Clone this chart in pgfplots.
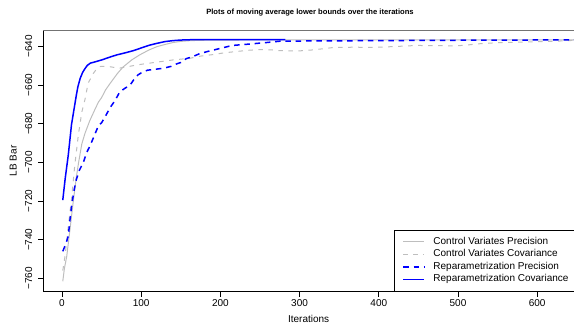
\documentclass[border=0pt]{standalone}
\usepackage{pgfplots}
\pgfplotsset{compat=1.18}
\usepackage{fontspec}
\setmainfont{Liberation Sans}
\definecolor{rgray}{HTML}{BEBEBE}
\definecolor{rblue}{HTML}{0000FF}
\begin{document}
\begin{tikzpicture}
\useasboundingbox (0,0) rectangle (574pt,326pt);
\begin{axis}[
  at={(43.3pt,34.3pt)}, anchor=south west,
  scale only axis, width=530.7pt, height=261.7pt,
  xmin=-23.6, xmax=646.5, ymin=-766.9, ymax=-631.5,
  axis x line*=bottom, axis y line*=left,
  axis line style={black, line width=0.7pt},
  clip mode=individual,
  tick align=outside, major tick length=5pt,
  tick style={black, line width=0.7pt},
  xtick={0,100,...,600},
  ytick={-760,-740,-720,-700,-680,-660,-640},
  yticklabels={−760,−740,−720,−700,−680,−660,−640},
  /pgf/number format/assume math mode=true,
  ticklabel style={font=\fontsize{10}{12}\selectfont},
  yticklabel style={rotate=90, anchor=south, inner sep=0pt, yshift=6pt},
  xticklabel style={anchor=north, inner sep=0pt, yshift=-3pt},
  xlabel={Iterations}, ylabel={LB Bar},
  label style={font=\fontsize{10}{12}\selectfont},
  xlabel style={at={(axis description cs:0.5,0)}, anchor=center, inner sep=0pt, yshift=-27pt},
  ylabel style={at={(axis description cs:-0.0565,0.5)}, anchor=center, inner sep=0pt},
  legend cell align=left,
  legend style={at={(0.6603,0)}, anchor=south west, draw=black,
    inner xsep=8.6pt, inner ysep=7.5pt, row sep=3.3pt, column sep=0pt,
    font=\fontsize{10}{12}\selectfont,
    nodes={inner sep=0pt, text height=7.2pt, text depth=2pt}},
  legend image code/.code={\draw[#1] (0pt,0pt) -- (21pt,0pt); \path (29.4pt,0pt);},
]
\addlegendimage{draw=rgray, line width=1pt}
\addlegendentry{Control Variates Precision}
\addlegendimage{draw=rgray, line width=1pt, dash pattern=on 4.5pt off 5.5pt}
\addlegendentry{Control Variates Covariance}
\addlegendimage{draw=rblue, line width=1.5pt, dash pattern=on 5.5pt off 4.8pt}
\addlegendentry{Reparametrization Precision}
\addlegendimage{draw=rblue, line width=1.2pt}
\addlegendentry{Reparametrization Covariance\hspace{6pt}}
\addplot[forget plot, color=rgray, line width=1pt] coordinates {
(1,-761.5) (3,-755) (6,-748.6) (10,-735) (14,-721) (18,-708) (21,-700) (25,-690.5) (29,-685) (35,-678.5) (40,-674) (46,-668.8) (50,-666.5) (55,-662.5) (61,-659) (70,-654) (77,-650.7) (88,-647) (98,-644.4) (110,-641.8) (120,-640.1) (130,-639) (140,-638) (150,-637.4) (162,-637) (180,-636.8) (250,-636.6) (400,-636.6) (650,-636.6)};
\addplot[forget plot, color=rgray, line width=1pt, dash pattern=on 4.5pt off 5.5pt] coordinates {
(1,-756) (4,-748) (8,-733) (12,-719) (16,-702) (20.6,-686) (25,-674) (29,-667.5) (33,-659) (39.5,-654) (44,-651.5) (48,-650.4) (56,-650.2) (65,-650.8) (73,-651.2) (83,-650.5) (94,-649.6) (115,-648.4) (140,-647) (162,-646.1) (175,-645) (191,-644.2) (205,-643.3) (221,-642.6) (235,-642) (250,-641.6) (265,-641.8) (275,-642.2) (290,-642.3) (300,-642.3) (317,-641.8) (342,-640.6) (368,-640.4) (393,-640.5) (418,-640.1) (448,-639.5) (473,-639.6) (498,-639.7) (511,-639.3) (524,-638.7) (553,-638) (578,-637.8) (604,-637.5) (629,-637.2) (650,-636.8)};
\addplot[forget plot, color=rblue, line width=1.5pt, dash pattern=on 5.5pt off 4.8pt] coordinates {
(1,-746) (3,-744) (5,-742) (8,-738) (10,-730) (12,-723) (15,-715) (18,-709) (22,-704) (27,-700) (31,-695) (35,-691.8) (41,-686) (46,-681) (50,-679.5) (55,-676) (61,-671.5) (67,-668) (73,-663.5) (80,-661.5) (86,-660) (91,-657) (96,-654.7) (102,-653.2) (108,-652.3) (118,-651.8) (128,-651.3) (138,-650.3) (145,-649) (150,-648.3) (157,-646.3) (165,-645.3) (174,-643.7) (185,-642.5) (200,-641) (215,-639.5) (233,-638.9) (258,-638) (275,-637.3) (300,-637.2) (400,-637) (500,-636.8) (650,-636.6)};
\addplot[forget plot, color=rblue, line width=1.5pt] coordinates {
(1,-719.5) (4,-708.5) (8,-696) (12,-680.5) (15,-673) (18,-665.5) (20,-661) (23,-656.5) (26,-653.5) (29,-651.5) (32,-649.8) (36,-648.6) (40,-648.2) (45,-647.6) (50,-647) (55,-646.3) (62,-645.3) (70,-644.3) (80,-643.3) (90,-642.2) (100,-640.8) (110,-639.4) (120,-638.4) (130,-637.5) (140,-637) (150,-636.7) (165,-636.5) (200,-636.5) (250,-636.5) (282,-636.5)};
\draw[black!55, line width=0.9pt] (rel axis cs:0,1) -- (rel axis cs:1,1);
\node[font=\fontsize{7.6}{9}\selectfont\bfseries] at (rel axis cs:0.5025,1) [yshift=17pt] {Plots of moving average lower bounds over the iterations};
\end{axis}
\end{tikzpicture}
\end{document}
